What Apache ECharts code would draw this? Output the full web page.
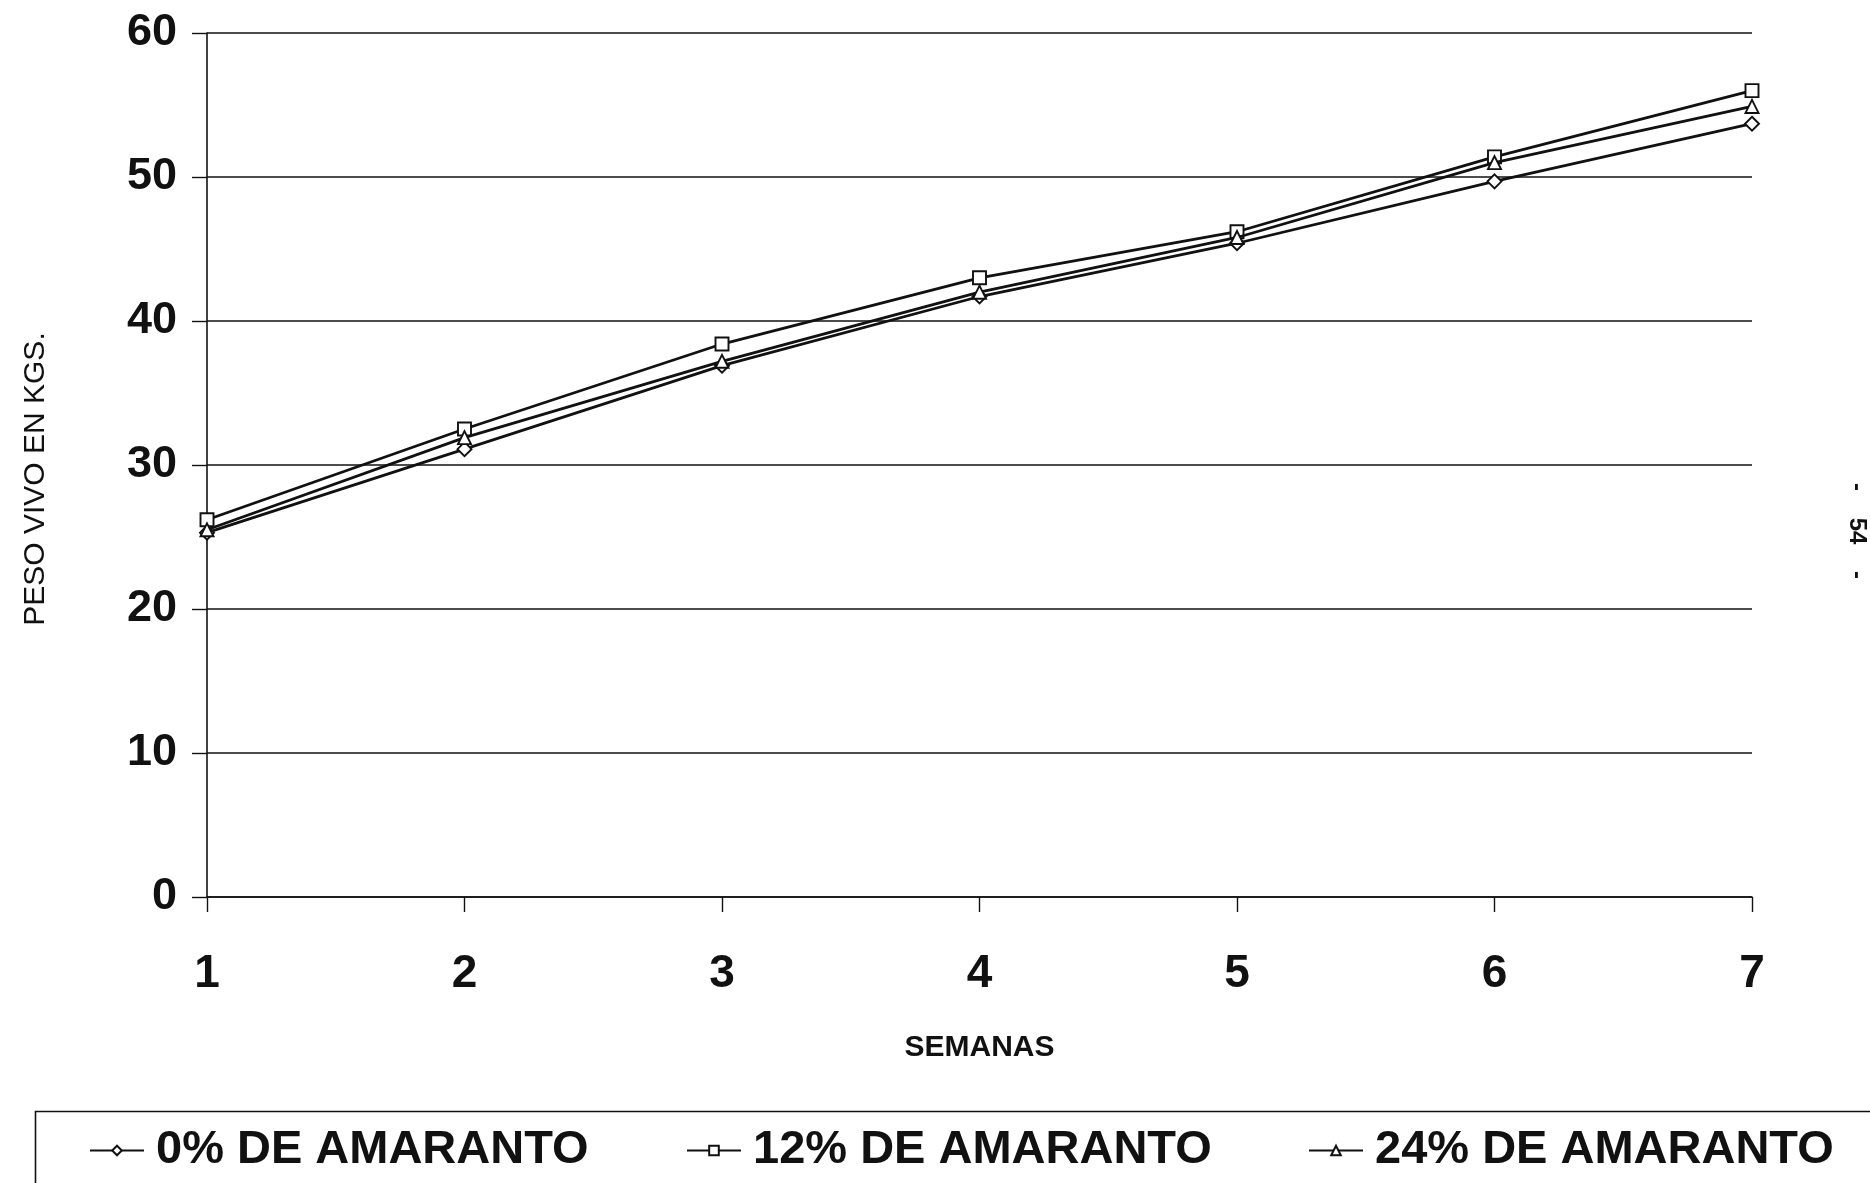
<!DOCTYPE html>
<html>
<head>
<meta charset="utf-8">
<title>Peso vivo por semana</title>
<script src="https://cdn.jsdelivr.net/npm/echarts@6/dist/echarts.min.js"></script>
<style>
  html, body { margin: 0; padding: 0; background: #ffffff; }
  #chart { width: 1870px; height: 1183px; }
</style>
</head>
<body>
<div id="chart"></div>
<script>
// Semanas del ensayo
const semanas = ['1', '2', '3', '4', '5', '6', '7'];

// Peso vivo promedio (kg) por tratamiento
const amaranto0 = [25.3, 31.1, 36.9, 41.7, 45.4, 49.7, 53.7];
const amaranto12 = [26.2, 32.5, 38.4, 43.0, 46.2, 51.4, 56.0];
const amaranto24 = [25.5, 31.9, 37.2, 42.0, 45.8, 51.0, 54.9];

const nombres = ['0% DE AMARANTO', '12% DE AMARANTO', '24% DE AMARANTO'];
const simbolos = ['diamond', 'rect', 'triangle'];
const valores = [amaranto0, amaranto12, amaranto24];

const FONT = '"Liberation Sans", Arial, sans-serif';
const INK = '#111111';

const chart = echarts.init(document.getElementById('chart'), null, { renderer: 'canvas' });

const series = valores.map((v, i) => ({
  name: nombres[i],
  type: 'line',
  data: v,
  symbol: simbolos[i],
  symbolSize: i === 0 ? 14 : 13,
  showSymbol: true,
  lineStyle: { color: INK, width: 2.8 },
  itemStyle: { color: '#ffffff', borderColor: INK, borderWidth: 1.9 },
  emphasis: { disabled: true },
  z: 3 + i
}));

const legendPos = [89, 686, 1308];
const legends = nombres.map((n, i) => ({
  data: [n],
  left: legendPos[i],
  top: 1127,
  itemWidth: 54,
  itemHeight: 12,
  padding: 0,
  textStyle: {
    fontFamily: FONT,
    fontWeight: 'bold',
    fontSize: 47,
    color: INK,
    padding: [0, 0, 0, 7]
  }
}));

chart.setOption({
  backgroundColor: '#ffffff',
  animation: false,
  grid: { left: 207, right: 118, top: 33, bottom: 286, containLabel: false },
  xAxis: {
    type: 'category',
    data: semanas,
    boundaryGap: false,
    name: 'SEMANAS',
    nameLocation: 'middle',
    nameGap: 136,
    nameTextStyle: { fontFamily: FONT, fontWeight: 'bold', fontSize: 30, color: INK },
    axisLine: { show: true, lineStyle: { color: INK, width: 1.6 } },
    axisTick: { show: true, length: 15, lineStyle: { color: INK, width: 1.4 } },
    axisLabel: { fontFamily: FONT, fontWeight: 'bold', fontSize: 46, color: INK, margin: 54 },
    splitLine: { show: false }
  },
  yAxis: {
    type: 'value',
    min: 0,
    max: 60,
    interval: 10,
    axisLine: { show: true, lineStyle: { color: INK, width: 1.6 } },
    axisTick: { show: true, length: 15, lineStyle: { color: INK, width: 1.4 } },
    axisLabel: { fontFamily: FONT, fontWeight: 'bold', fontSize: 45, color: INK, margin: 30 },
    splitLine: { show: true, lineStyle: { color: INK, width: 1.5 } }
  },
  legend: legends,
  graphic: [
    {
      // título del eje vertical
      type: 'text',
      x: 36,
      y: 479,
      rotation: Math.PI / 2,
      style: {
        text: 'PESO VIVO EN KGS.',
        font: '30px ' + FONT,
        fill: INK,
        textAlign: 'center',
        textVerticalAlign: 'middle'
      }
    },
    {
      // marco de la leyenda
      type: 'rect',
      left: 33,
      top: 1109,
      shape: { width: 1900, height: 200 },
      style: { fill: 'none', stroke: INK, lineWidth: 1.6 },
      z: 0
    },
    {
      // número de página
      type: 'text',
      x: 1857,
      y: 531,
      rotation: -Math.PI / 2,
      style: {
        text: '-    54    -',
        font: 'bold 24px ' + FONT,
        fill: INK,
        textAlign: 'center',
        textVerticalAlign: 'middle'
      }
    }
  ],
  series: series
});
</script>
</body>
</html>
